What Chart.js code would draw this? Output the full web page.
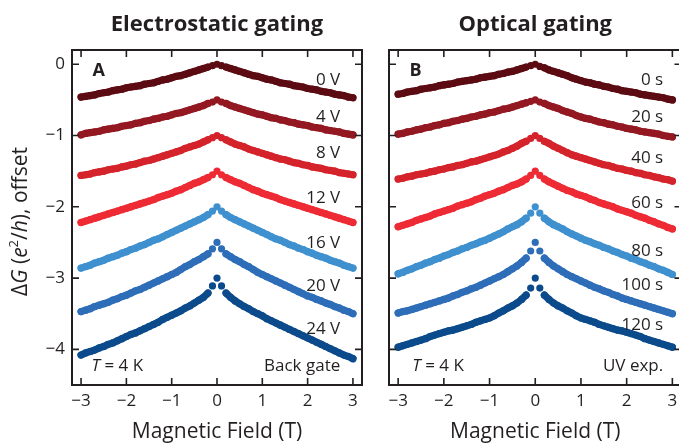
<!DOCTYPE html>
<html>
<head>
<meta charset="utf-8">
<script src="https://cdn.jsdelivr.net/npm/chart.js"></script>
<style>
  html, body { margin: 0; padding: 0; background: #fff; overflow: hidden; width: 679px; height: 443px; }
  #panelA { position: absolute; left: 0; top: 0; }
  #panelB { position: absolute; left: 372px; top: 0; }
</style>
</head>
<body>
<canvas id="panelA" width="372" height="443"></canvas>
<canvas id="panelB" width="330" height="443"></canvas>
<script>
// Magnetic field (T), one point every 0.1 T
const field = [-3.0,-2.9,-2.8,-2.7,-2.6,-2.5,-2.4,-2.3,-2.2,-2.1,-2.0,-1.9,-1.8,-1.7,-1.6,-1.5,-1.4,-1.3,-1.2,-1.1,-1.0,-0.9,-0.8,-0.7,-0.6,-0.5,-0.4,-0.3,-0.2,-0.1,0,
  0.1,0.2,0.3,0.4,0.5,0.6,0.7,0.8,0.9,1.0,1.1,1.2,1.3,1.4,1.5,1.6,1.7,1.8,1.9,2.0,2.1,2.2,2.3,2.4,2.5,2.6,2.7,2.8,2.9,3.0];

const xTicks = [-3, -2, -1, 0, 1, 2, 3];
const yTicks = [0, -1, -2, -3, -4];

// Panel A: back gate voltage
const gateLabels = ['0 V', '4 V', '8 V', '12 V', '16 V', '20 V', '24 V'];
const gate0V = [-0.46,-0.45,-0.44,-0.43,-0.41,-0.40,-0.39,-0.37,-0.36,-0.35,-0.33,-0.32,-0.31,-0.30,-0.28,-0.27,-0.26,-0.24,-0.22,-0.21,-0.19,-0.17,-0.16,-0.14,-0.12,-0.10,-0.08,-0.06,-0.04,-0.02,0,
  -0.02,-0.04,-0.06,-0.08,-0.10,-0.12,-0.14,-0.16,-0.17,-0.19,-0.21,-0.22,-0.24,-0.26,-0.27,-0.28,-0.30,-0.31,-0.32,-0.34,-0.35,-0.36,-0.38,-0.39,-0.40,-0.42,-0.43,-0.44,-0.46,-0.47];
const gate4V = [-0.99,-0.97,-0.96,-0.95,-0.94,-0.92,-0.91,-0.90,-0.89,-0.87,-0.86,-0.85,-0.83,-0.82,-0.80,-0.79,-0.77,-0.76,-0.74,-0.73,-0.71,-0.69,-0.68,-0.66,-0.64,-0.62,-0.60,-0.58,-0.55,-0.53,-0.50,
  -0.53,-0.55,-0.58,-0.60,-0.62,-0.64,-0.66,-0.68,-0.70,-0.71,-0.73,-0.75,-0.76,-0.78,-0.79,-0.81,-0.82,-0.84,-0.85,-0.86,-0.88,-0.89,-0.90,-0.92,-0.93,-0.94,-0.95,-0.97,-0.98,-0.99];
const gate8V = [-1.56,-1.55,-1.54,-1.52,-1.51,-1.50,-1.48,-1.47,-1.46,-1.44,-1.43,-1.41,-1.40,-1.38,-1.36,-1.35,-1.33,-1.31,-1.29,-1.27,-1.25,-1.23,-1.21,-1.18,-1.16,-1.14,-1.12,-1.09,-1.06,-1.03,-1.00,
  -1.03,-1.06,-1.09,-1.12,-1.14,-1.16,-1.19,-1.21,-1.23,-1.25,-1.27,-1.29,-1.31,-1.33,-1.34,-1.36,-1.38,-1.39,-1.41,-1.42,-1.44,-1.45,-1.46,-1.48,-1.49,-1.50,-1.52,-1.53,-1.54,-1.55];
const gate12V = [-2.22,-2.20,-2.18,-2.16,-2.14,-2.12,-2.10,-2.08,-2.06,-2.04,-2.02,-2.00,-1.98,-1.96,-1.94,-1.92,-1.90,-1.87,-1.85,-1.83,-1.81,-1.78,-1.76,-1.73,-1.70,-1.67,-1.65,-1.62,-1.59,-1.55,-1.50,
  -1.55,-1.59,-1.62,-1.65,-1.67,-1.70,-1.73,-1.76,-1.78,-1.81,-1.83,-1.85,-1.87,-1.90,-1.92,-1.94,-1.96,-1.98,-2.00,-2.02,-2.04,-2.06,-2.08,-2.10,-2.12,-2.14,-2.16,-2.18,-2.20,-2.22];
const gate16V = [-2.86,-2.84,-2.82,-2.79,-2.77,-2.75,-2.72,-2.70,-2.68,-2.65,-2.63,-2.60,-2.58,-2.55,-2.53,-2.50,-2.47,-2.45,-2.42,-2.39,-2.36,-2.33,-2.30,-2.27,-2.24,-2.21,-2.18,-2.15,-2.11,-2.06,-2.00,
  -2.06,-2.11,-2.15,-2.18,-2.21,-2.24,-2.27,-2.30,-2.33,-2.36,-2.39,-2.42,-2.45,-2.47,-2.50,-2.53,-2.55,-2.58,-2.60,-2.63,-2.65,-2.68,-2.70,-2.72,-2.75,-2.77,-2.79,-2.82,-2.84,-2.86];
const gate20V = [-3.47,-3.45,-3.43,-3.40,-3.38,-3.36,-3.34,-3.31,-3.29,-3.26,-3.24,-3.21,-3.18,-3.16,-3.13,-3.10,-3.07,-3.04,-3.01,-2.98,-2.95,-2.92,-2.88,-2.84,-2.81,-2.77,-2.74,-2.70,-2.66,-2.59,-2.50,
  -2.59,-2.66,-2.70,-2.74,-2.77,-2.81,-2.84,-2.88,-2.92,-2.95,-2.98,-3.01,-3.04,-3.07,-3.10,-3.13,-3.16,-3.19,-3.22,-3.25,-3.27,-3.30,-3.32,-3.35,-3.37,-3.40,-3.42,-3.45,-3.47,-3.50];
const gate24V = [-4.08,-4.05,-4.03,-4.01,-3.98,-3.96,-3.93,-3.91,-3.88,-3.85,-3.82,-3.79,-3.77,-3.74,-3.71,-3.68,-3.65,-3.62,-3.58,-3.55,-3.52,-3.49,-3.46,-3.42,-3.39,-3.35,-3.31,-3.27,-3.21,-3.11,-3.00,
  -3.11,-3.21,-3.27,-3.32,-3.36,-3.40,-3.43,-3.47,-3.50,-3.53,-3.57,-3.60,-3.63,-3.66,-3.69,-3.72,-3.75,-3.78,-3.81,-3.84,-3.87,-3.90,-3.93,-3.96,-3.99,-4.02,-4.05,-4.08,-4.10,-4.13];

// Panel B: UV exposure time
const uvLabels = ['0 s', '20 s', '40 s', '60 s', '80 s', '100 s', '120 s'];
const uv0s = [-0.42,-0.41,-0.39,-0.38,-0.37,-0.35,-0.34,-0.33,-0.32,-0.30,-0.29,-0.28,-0.27,-0.25,-0.24,-0.23,-0.22,-0.21,-0.19,-0.18,-0.17,-0.16,-0.14,-0.13,-0.11,-0.10,-0.08,-0.06,-0.04,-0.02,0,
  -0.03,-0.05,-0.08,-0.10,-0.12,-0.14,-0.16,-0.19,-0.21,-0.23,-0.25,-0.26,-0.28,-0.29,-0.31,-0.32,-0.34,-0.35,-0.37,-0.38,-0.39,-0.40,-0.42,-0.43,-0.44,-0.45,-0.46,-0.47,-0.49,-0.50];
const uv20s = [-0.98,-0.97,-0.95,-0.94,-0.92,-0.91,-0.89,-0.88,-0.86,-0.85,-0.83,-0.82,-0.80,-0.79,-0.77,-0.76,-0.74,-0.73,-0.71,-0.70,-0.68,-0.67,-0.65,-0.63,-0.62,-0.60,-0.58,-0.56,-0.54,-0.52,-0.50,
  -0.53,-0.55,-0.58,-0.60,-0.62,-0.65,-0.67,-0.69,-0.72,-0.74,-0.76,-0.77,-0.79,-0.81,-0.82,-0.84,-0.85,-0.87,-0.88,-0.90,-0.91,-0.92,-0.94,-0.95,-0.96,-0.97,-0.98,-1.00,-1.01,-1.02];
const uv40s = [-1.61,-1.60,-1.58,-1.57,-1.55,-1.54,-1.53,-1.51,-1.50,-1.48,-1.47,-1.45,-1.44,-1.42,-1.41,-1.39,-1.37,-1.36,-1.34,-1.32,-1.30,-1.28,-1.26,-1.23,-1.21,-1.18,-1.15,-1.11,-1.08,-1.04,-1.00,
  -1.04,-1.08,-1.11,-1.15,-1.18,-1.21,-1.24,-1.27,-1.29,-1.31,-1.33,-1.35,-1.37,-1.39,-1.41,-1.42,-1.44,-1.46,-1.47,-1.49,-1.50,-1.52,-1.53,-1.55,-1.56,-1.58,-1.59,-1.61,-1.62,-1.64];
const uv60s = [-2.28,-2.26,-2.24,-2.22,-2.19,-2.17,-2.15,-2.13,-2.10,-2.08,-2.06,-2.04,-2.02,-1.99,-1.97,-1.95,-1.93,-1.90,-1.88,-1.85,-1.83,-1.81,-1.78,-1.76,-1.73,-1.70,-1.68,-1.65,-1.61,-1.56,-1.50,
  -1.56,-1.61,-1.65,-1.68,-1.71,-1.74,-1.77,-1.79,-1.82,-1.84,-1.86,-1.89,-1.91,-1.94,-1.96,-1.98,-2.00,-2.03,-2.05,-2.07,-2.09,-2.12,-2.14,-2.16,-2.19,-2.21,-2.24,-2.26,-2.29,-2.31];
const uv80s = [-2.94,-2.92,-2.89,-2.87,-2.84,-2.82,-2.79,-2.77,-2.74,-2.72,-2.69,-2.67,-2.64,-2.62,-2.59,-2.57,-2.54,-2.52,-2.49,-2.47,-2.44,-2.41,-2.38,-2.35,-2.31,-2.28,-2.25,-2.21,-2.16,-2.09,-2.00,
  -2.09,-2.16,-2.21,-2.25,-2.28,-2.31,-2.35,-2.38,-2.41,-2.44,-2.47,-2.49,-2.52,-2.54,-2.57,-2.59,-2.62,-2.64,-2.67,-2.69,-2.72,-2.74,-2.77,-2.79,-2.82,-2.84,-2.87,-2.89,-2.92,-2.95];
const uv100s = [-3.49,-3.47,-3.46,-3.44,-3.42,-3.40,-3.38,-3.36,-3.34,-3.32,-3.30,-3.28,-3.25,-3.23,-3.20,-3.18,-3.15,-3.13,-3.10,-3.07,-3.04,-3.01,-2.98,-2.95,-2.91,-2.87,-2.83,-2.78,-2.72,-2.62,-2.50,
  -2.62,-2.72,-2.78,-2.83,-2.87,-2.91,-2.95,-2.98,-3.01,-3.04,-3.07,-3.10,-3.13,-3.15,-3.18,-3.20,-3.23,-3.25,-3.28,-3.30,-3.32,-3.34,-3.36,-3.38,-3.40,-3.42,-3.44,-3.46,-3.48,-3.50];
const uv120s = [-3.97,-3.95,-3.93,-3.91,-3.89,-3.87,-3.85,-3.82,-3.80,-3.78,-3.76,-3.74,-3.73,-3.71,-3.69,-3.67,-3.65,-3.62,-3.60,-3.58,-3.56,-3.53,-3.49,-3.46,-3.42,-3.39,-3.35,-3.30,-3.24,-3.14,-3.00,
  -3.14,-3.24,-3.30,-3.35,-3.39,-3.42,-3.46,-3.49,-3.53,-3.56,-3.58,-3.60,-3.62,-3.65,-3.67,-3.69,-3.71,-3.73,-3.74,-3.76,-3.78,-3.80,-3.82,-3.85,-3.87,-3.89,-3.91,-3.93,-3.95,-3.97];

const curveColors = ['#5c0b12', '#931821', '#d5232b', '#ee2b34', '#3f90cf', '#2e6db8', '#0b4a8b'];
const INK = '#231f20';
const FONT = '"Open Sans", "Noto Sans", sans-serif';
const TICK = 7;
const DOT = 3.6;

const minus = v => String(v).replace('-', '\u2212');

// draw a run of text pieces (some italic / superscript) starting at x
function drawRich(ctx, parts, x, y, size, align) {
  const fontOf = p => (p.italic ? 'italic ' : '') + (p.sup ? Math.round(size * 0.62) : size) + 'px ' + FONT;
  let total = 0;
  parts.forEach(p => { ctx.font = fontOf(p); total += ctx.measureText(p.t).width; });
  let cx = align === 'center' ? x - total / 2 : align === 'right' ? x - total : x;
  ctx.textAlign = 'left';
  ctx.textBaseline = 'middle';
  parts.forEach(p => {
    ctx.font = fontOf(p);
    ctx.fillText(p.t, cx, p.sup ? y - size * 0.32 : y);
    cx += ctx.measureText(p.t).width;
  });
}

const framePlugin = {
  id: 'frame',
  afterDraw(chart, args, o) {
    const { ctx, chartArea: a, scales } = chart;
    const sx = scales.x, sy = scales.y;
    ctx.save();
    ctx.strokeStyle = INK;
    ctx.fillStyle = INK;
    ctx.lineWidth = 2;
    ctx.strokeRect(a.left, a.top, a.right - a.left, a.bottom - a.top);
    ctx.lineWidth = 1.6;
    ctx.beginPath();
    xTicks.forEach(v => {
      const px = sx.getPixelForValue(v);
      ctx.moveTo(px, a.bottom); ctx.lineTo(px, a.bottom - TICK);
      ctx.moveTo(px, a.top); ctx.lineTo(px, a.top + TICK);
    });
    yTicks.forEach(v => {
      const py = sy.getPixelForValue(v);
      ctx.moveTo(a.left, py); ctx.lineTo(a.left + TICK, py);
      ctx.moveTo(a.right, py); ctx.lineTo(a.right - TICK, py);
    });
    ctx.stroke();

    // panel title
    ctx.font = 'bold 22px ' + FONT;
    ctx.textAlign = 'center';
    ctx.textBaseline = 'middle';
    ctx.fillText(o.title, (a.left + a.right) / 2, 25);

    // panel letter
    ctx.font = 'bold 18px ' + FONT;
    ctx.textAlign = 'left';
    ctx.fillText(o.letter, sx.getPixelForValue(-2.75), sy.getPixelForValue(-0.09));

    // curve labels
    ctx.font = '17px ' + FONT;
    ctx.textAlign = 'right';
    o.labels.forEach((t, i) => {
      ctx.fillText(t, sx.getPixelForValue(o.labelX), sy.getPixelForValue(o.labelY[i]));
    });

    // notes along the bottom
    const ny = sy.getPixelForValue(-4.24);
    drawRich(ctx, [{ t: 'T', italic: true }, { t: ' = 4 K' }], sx.getPixelForValue(o.tempX), ny, 17, 'left');
    ctx.font = '17px ' + FONT;
    ctx.textAlign = 'right';
    ctx.fillText(o.note, sx.getPixelForValue(o.labelX), ny);

    if (o.yTitle) {
      ctx.translate(21, (a.top + a.bottom) / 2 + 4);
      ctx.rotate(-Math.PI / 2);
      drawRich(ctx, [
        { t: '\u0394' }, { t: 'G', italic: true }, { t: ' (' }, { t: 'e', italic: true },
        { t: '2', sup: true }, { t: '/' }, { t: 'h', italic: true }, { t: '), offset' }
      ], 0, 0, 21, 'center');
    }
    ctx.restore();
  }
};

// hide the joining band right at the cusp so the separate dots stay visible there
const nearCusp = c => Math.abs(c.p0.parsed.x) < 0.15 || Math.abs(c.p1.parsed.x) < 0.15;

function makePanel(id, series, frame, yWidth, padRight) {
  const datasets = series.map((ys, i) => ({
    data: field.map((x, j) => ({ x: x, y: ys[j] })),
    showLine: true,
    borderColor: curveColors[i],
    borderWidth: DOT * 2,
    borderCapStyle: 'round',
    borderJoinStyle: 'round',
    segment: { borderColor: c => nearCusp(c) ? 'rgba(0,0,0,0)' : undefined },
    backgroundColor: curveColors[i],
    pointRadius: DOT,
    pointHoverRadius: DOT,
    pointBorderWidth: 0
  }));
  return new Chart(document.getElementById(id), {
    type: 'scatter',
    data: { datasets: datasets },
    options: {
      responsive: false,
      animation: false,
      events: [],
      layout: { padding: { top: 50, right: padRight, left: 0, bottom: 0 } },
      plugins: { legend: { display: false }, tooltip: { enabled: false }, frame: frame },
      scales: {
        x: {
          type: 'linear', min: -3.2, max: 3.2,
          afterBuildTicks: s => { s.ticks = xTicks.map(v => ({ value: v })); },
          afterFit: s => { s.height = 58; },
          grid: { display: false, drawTicks: false },
          border: { display: false },
          ticks: { color: INK, font: { family: FONT, size: 17 }, padding: 6, maxRotation: 0, autoSkip: false, callback: v => minus(v) },
          title: { display: true, text: 'Magnetic Field (T)', color: INK, font: { family: FONT, size: 21, lineHeight: 1 }, padding: { top: 0, bottom: 0 } }
        },
        y: {
          type: 'linear', min: -4.5, max: 0.2,
          afterBuildTicks: s => { s.ticks = yTicks.map(v => ({ value: v })); },
          afterFit: s => { s.width = yWidth; },
          grid: { display: false, drawTicks: false },
          border: { display: false },
          ticks: { display: frame.yTicks, color: INK, font: { family: FONT, size: 17 }, padding: 7, callback: v => minus(v) }
        }
      }
    },
    plugins: [framePlugin]
  });
}

makePanel('panelA', [gate0V, gate4V, gate8V, gate12V, gate16V, gate20V, gate24V], {
  title: 'Electrostatic gating', letter: 'A', labels: gateLabels,
  labelX: 2.72, labelY: [-0.23, -0.74, -1.25, -1.88, -2.51, -3.12, -3.71],
  tempX: -2.77, note: 'Back gate', yTitle: true, yTicks: true
}, 72, 10);

makePanel('panelB', [uv0s, uv20s, uv40s, uv60s, uv80s, uv100s, uv120s], {
  title: 'Optical gating', letter: 'B', labels: uvLabels,
  labelX: 2.8, labelY: [-0.23, -0.74, -1.32, -1.95, -2.62, -3.10, -3.66],
  tempX: -2.69, note: 'UV exp.', yTitle: false, yTicks: false
}, 17, 20.5);
</script>
</body>
</html>
